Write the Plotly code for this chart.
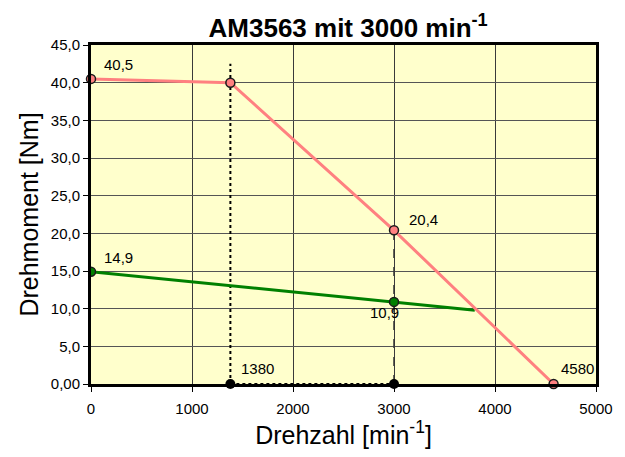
import plotly.graph_objects as go

# Drehmomentkennlinien AM3563 (Nennzahl 3000 min^-1)
peak_rpm = [0, 1380, 3000, 4580]
peak_torque = [40.5, 40.0, 20.4, 0.0]
peak_labels = ["40,5", "", "20,4", "4580"]

cont_rpm = [0, 3000, 3800]
cont_torque = [14.9, 10.9, 9.8]
cont_labels = ["14,9", "10,9", ""]

# Hilfslinien für Eckdrehzahl und Nenndrehzahl
corner_rpm = [1380, 1380]
corner_torque = [0, 42.5]
base_rpm = [1380, 3000]
base_torque = [0, 0]
nominal_rpm = [3000, 3000]
nominal_torque = [0, 20.4]
marker_rpm = [1380, 3000]
marker_torque = [0, 0]
marker_labels = ["1380", ""]

y_ticks = [0, 5, 10, 15, 20, 25, 30, 35, 40, 45]
y_ticktext = ["0,00", "5,0", "10,0", "15,0", "20,0", "25,0", "30,0", "35,0", "40,0", "45,0"]
x_ticks = [0, 1000, 2000, 3000, 4000, 5000]

FONT = "Liberation Sans, Arial, sans-serif"

fig = go.Figure()

fig.add_trace(go.Scatter(x=corner_rpm, y=corner_torque, mode="lines",
                         line=dict(color="black", width=2, dash="dot"),
                         hoverinfo="skip", showlegend=False))
fig.add_trace(go.Scatter(x=base_rpm, y=base_torque, mode="lines",
                         line=dict(color="black", width=2, dash="dot"),
                         hoverinfo="skip", showlegend=False))
fig.add_trace(go.Scatter(x=nominal_rpm, y=nominal_torque, mode="lines",
                         line=dict(color="#333333", width=1.5, dash="dash"),
                         hoverinfo="skip", showlegend=False))

fig.add_trace(go.Scatter(x=cont_rpm, y=cont_torque, mode="lines",
                         line=dict(color="#008000", width=3),
                         showlegend=False))
fig.add_trace(go.Scatter(x=cont_rpm[:2], y=cont_torque[:2], mode="markers",
                         marker=dict(color="#008000", size=9,
                                     line=dict(color="#1a1a1a", width=1.5)),
                         showlegend=False, hoverinfo="skip"))

fig.add_trace(go.Scatter(x=peak_rpm, y=peak_torque, mode="lines+markers",
                         line=dict(color="#FF8080", width=3),
                         marker=dict(color="#FF8080", size=9,
                                     line=dict(color="#1a1a1a", width=1.5)),
                         showlegend=False, cliponaxis=False))

fig.add_trace(go.Scatter(x=marker_rpm, y=marker_torque, mode="markers",
                         marker=dict(color="black", size=10),
                         showlegend=False, cliponaxis=False))

# Wertebeschriftungen
label_font = dict(family=FONT, size=15, color="black")


def label_above(x, y, text, xshift=11, yshift=4):
    fig.add_annotation(x=x, y=y, text=text, showarrow=False, xanchor="left",
                       yanchor="bottom", xshift=xshift, yshift=yshift,
                       font=label_font)


for x, y, t in zip(peak_rpm, peak_torque, peak_labels):
    if not t:
        continue
    if y == 0:
        label_above(x, y, t, xshift=5, yshift=5)
    elif x == 0:
        label_above(x, y, t)
    else:
        label_above(x, y, t, xshift=13, yshift=0)

for x, y, t in zip(cont_rpm, cont_torque, cont_labels):
    if not t:
        continue
    if x == 0:
        label_above(x, y, t)
    else:
        fig.add_annotation(x=x, y=y, text=t, showarrow=False, xanchor="center",
                           yanchor="top", xshift=-10, yshift=0, font=label_font)

for x, y, t in zip(marker_rpm, marker_torque, marker_labels):
    if t:
        label_above(x, y, t, xshift=9, yshift=5)

fig.update_layout(
    width=625, height=457,
    margin=dict(l=91, r=20, t=45, b=73),
    paper_bgcolor="white",
    plot_bgcolor="#FFFFCC",
    font=dict(family=FONT, size=15, color="black"),
    title=dict(text="<b>AM3563 mit 3000 min<sup>-1</sup></b>",
               x=0.557, xanchor="center", y=0.94, yanchor="middle",
               font=dict(family=FONT, size=26, color="black")),
    xaxis=dict(range=[0, 5000], tickvals=x_ticks, ticks="outside", ticklen=5,
               tickcolor="black", showgrid=True, gridcolor="#3a3a3a", gridwidth=1,
               zeroline=False, showline=True, linecolor="black", linewidth=3,
               mirror=True, ticklabelstandoff=4,
               tickfont=dict(family=FONT, size=15),
               title=dict(text="Drehzahl [min<sup>-1</sup>]", standoff=10,
                          font=dict(family=FONT, size=25))),
    yaxis=dict(range=[0, 45], tickvals=y_ticks, ticktext=y_ticktext,
               ticks="outside", ticklen=5, tickcolor="black",
               showgrid=True, gridcolor="#555555", gridwidth=1,
               zeroline=False, showline=True, linecolor="black", linewidth=3,
               mirror=True,
               tickfont=dict(family=FONT, size=15),
               title=dict(text="Drehmoment [Nm]", standoff=6,
                          font=dict(family=FONT, size=25))),
)

fig.write_html("out.html")
